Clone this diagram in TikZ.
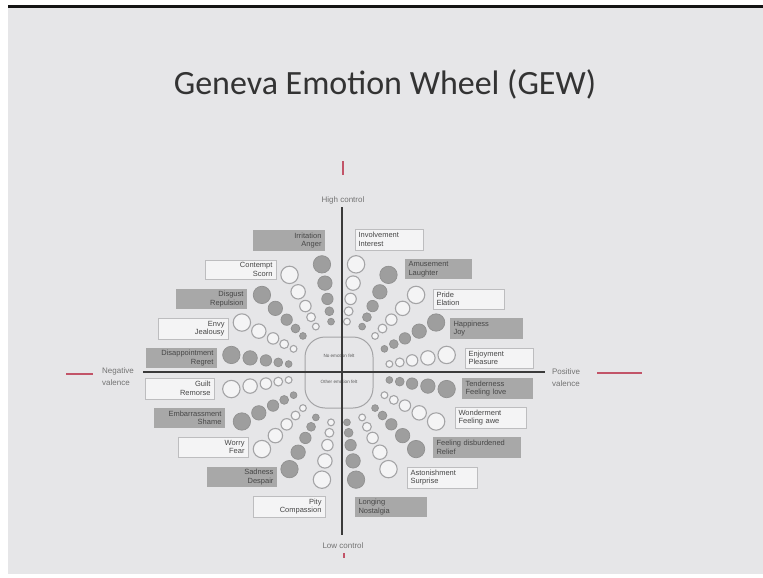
\documentclass[tikz,border=0pt]{standalone}
\usepackage{fontspec}
\setmainfont{Liberation Sans}
\newfontfamily\titlefont{Carlito}
\newfontfamily\lsans{Liberation Sans}
\usetikzlibrary{calc}

\definecolor{slidebg}{HTML}{E6E6E8}
\definecolor{boxgray}{HTML}{A8A8A8}
\definecolor{boxwhite}{HTML}{F4F4F5}
\definecolor{boxline}{HTML}{BDBDBF}
\definecolor{dotfill}{HTML}{9E9E9E}
\definecolor{dotline}{HTML}{909090}
\definecolor{ringline}{HTML}{A4A4A6}
\definecolor{axisgray}{HTML}{3A3A3A}
\definecolor{marker}{HTML}{C25468}

\newcommand\boxfont{\lsans\fontsize{7.5}{8.6}\selectfont}

% one labelled emotion box: name, style, x1, y1, x2, y2, alignment, text
\newcommand\emobox[8]{%
  \pgfmathsetmacro\ebw{#5-#3-7}%
  \pgfmathsetmacro\ebh{#6-#4}%
  \node[#2, text width=\ebw pt, minimum height=\ebh pt, align=#7]
    (#1) at ({(#3+#5)/2},{(#4+#6)/2}) {#8};}

\tikzset{
  emo/.style={font=\boxfont, text=black!72, inner xsep=3.5pt, inner ysep=0pt},
  gbox/.style={emo, fill=boxgray},
  wbox/.style={emo, fill=boxwhite, draw=boxline, line width=0.8pt},
  dotfull/.style={fill=dotfill, draw=dotline, line width=0.7pt},
  dotopen/.style={fill=boxwhite, draw=ringline, line width=1.1pt},
  axislab/.style={font=\lsans\fontsize{8}{12}\selectfont, text=black!55, inner sep=0pt},
  axisline/.style={draw=axisgray, line width=1.8pt},
  redmark/.style={draw=marker, line width=2.4pt},
}

\begin{document}
\begin{tikzpicture}[x=1pt, y=-1pt]
  \useasboundingbox (0,0) rectangle (763,578);
  % page and slide
  \fill[white] (0,0) rectangle (763,578);
  \fill[slidebg] (8,8) rectangle (763,574);
  \fill[black!92] (8,5) rectangle (763,8);

  % title
  \node[font=\titlefont\fontsize{34}{40}\selectfont, text=black!80, anchor=base, inner sep=0pt]
    (title) at (385,94) {Geneva Emotion Wheel (GEW)};

  % centre field
  \node[draw=ringline, line width=1pt, rounded corners=20pt,
        minimum width=68pt, minimum height=71pt, inner sep=0pt] (centre) at (339,372.5) {};
  \node[font=\lsans\fontsize{4.6}{5}\selectfont, text=black!65, inner sep=0pt]
    (noemo) at (339,356) {No emotion felt};
  \node[font=\lsans\fontsize{4.6}{5}\selectfont, text=black!65, inner sep=0pt]
    (otheremo) at (339,382) {Other emotion felt};

  % spokes of circles, alternating filled and open
  \begin{scope}[shift={(339,372)}]
    \foreach \k in {0,...,19}{
      \pgfmathsetmacro\a{81-18*\k}
      \ifodd\k
        \foreach \d/\r in {51/3.4, 61.5/4.4, 74/5.7, 90/7.2, 109/8.7}
          {\path[dotfull] (-\a:\d) circle[radius=\r pt];}
      \else
        \foreach \d/\r in {51/3.4, 61.5/4.4, 74/5.7, 90/7.2, 109/8.7}
          {\path[dotopen] (-\a:\d) circle[radius=\r pt];}
      \fi
    }
  \end{scope}

  % emotion boxes, left half
  \emobox{irritation}{gbox}{253}{230}{325}{251}{right}{Irritation\\Anger}
  \emobox{contempt}{wbox}{205}{260}{276}{279}{right}{Contempt\\Scorn}
  \emobox{disgust}{gbox}{176}{289}{247}{309}{right}{Disgust\\Repulsion}
  \emobox{envy}{wbox}{158}{318}{228}{339}{right}{Envy\\Jealousy}
  \emobox{disappoint}{gbox}{146}{348}{217}{368}{right}{Disappointment\\Regret}
  \emobox{guilt}{wbox}{145}{378}{214}{399}{right}{Guilt\\Remorse}
  \emobox{embarrass}{gbox}{154}{408}{225}{428}{right}{Embarrassment\\Shame}
  \emobox{worry}{wbox}{178}{437}{248}{457}{right}{Worry\\Fear}
  \emobox{sadness}{gbox}{207}{467}{277}{487}{right}{Sadness\\Despair}
  \emobox{pity}{wbox}{253}{496}{325}{517}{right}{Pity\\Compassion}
  % emotion boxes, right half
  \emobox{involve}{wbox}{355}{229}{423}{250}{left}{Involvement\\Interest}
  \emobox{amuse}{gbox}{405}{259}{472}{279}{left}{Amusement\\Laughter}
  \emobox{pride}{wbox}{433}{289}{504}{309}{left}{Pride\\Elation}
  \emobox{happy}{gbox}{450}{318}{523}{339}{left}{Happiness\\Joy}
  \emobox{enjoy}{wbox}{465}{348}{533}{368}{left}{Enjoyment\\Pleasure}
  \emobox{tender}{gbox}{462}{378}{533}{399}{left}{Tenderness\\Feeling love}
  \emobox{wonder}{wbox}{455}{407}{526}{428}{left}{Wonderment\\Feeling awe}
  \emobox{relief}{gbox}{433}{437}{521}{458}{left}{Feeling disburdened\\Relief}
  \emobox{astonish}{wbox}{407}{467}{477}{488}{left}{Astonishment\\Surprise}
  \emobox{longing}{gbox}{355}{497}{427}{517}{left}{Longing\\Nostalgia}

  % axes
  \coordinate (axtop) at (342,207);
  \coordinate (axbot) at (342,535);
  \coordinate (axleft) at (143,372);
  \coordinate (axright) at (545,372);
  \draw[axisline] (axtop) -- (axbot);
  \draw[axisline] (axleft) -- (axright);

  % axis labels
  \node[axislab] (high) at (343,200) {High control};
  \node[axislab] (low) at (343,546) {Low control};
  \node[axislab, align=left, anchor=west] (neg) at (102,377) {Negative\\valence};
  \node[axislab, align=center] (posv) at (566,378) {Positive\\valence};

  % red end marks
  \coordinate (mlA) at (66,374);  \coordinate (mlB) at (93,374);
  \coordinate (mrA) at (597,373); \coordinate (mrB) at (642,373);
  \coordinate (mtA) at (343,161); \coordinate (mtB) at (343,175);
  \coordinate (mbA) at (344,553); \coordinate (mbB) at (344,558);
  \draw[redmark] (mlA) -- (mlB);
  \draw[redmark] (mrA) -- (mrB);
  \draw[redmark, line width=1.5pt] (mtA) -- (mtB);
  \draw[redmark, line width=1.5pt] (mbA) -- (mbB);
\end{tikzpicture}
\end{document}
